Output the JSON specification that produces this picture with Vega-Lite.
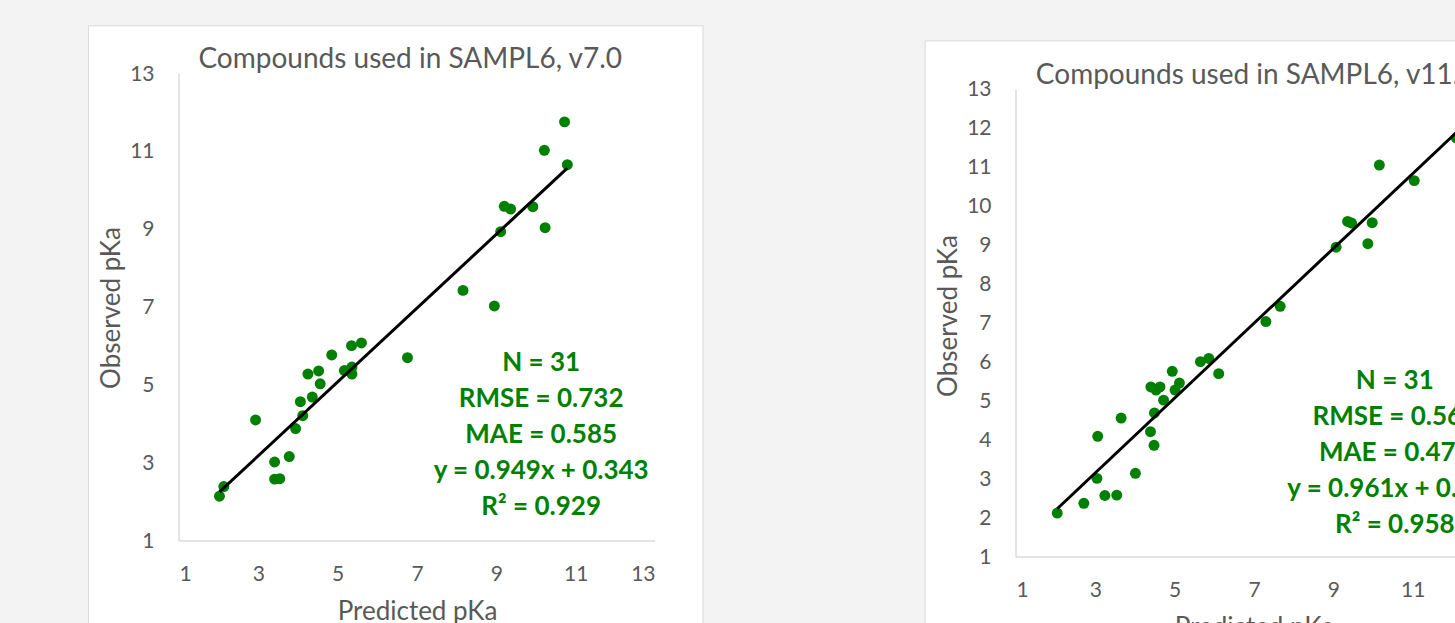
{
  "$schema": "https://vega.github.io/schema/vega-lite/v6.json",
  "background": "#f3f3f3",
  "padding": {"left": 88, "top": 25, "right": 0, "bottom": 0},
  "config": {
    "font": "Lato",
    "view": {"stroke": null},
    "axis": {
      "grid": false, "ticks": false, "domain": false, "labelOverlap": false,
      "labelFont": "Lato", "labelFontSize": 21, "labelColor": "#595959",
      "titleFont": "Lato", "titleFontSize": 26, "titleFontWeight": "normal", "titleColor": "#595959"
    },
    "axisX": {"labelPadding": 22, "titlePadding": 14},
    "axisY": {"labelPadding": 25, "titlePadding": 5}
  },
  "datasets": {
    "v7": [
      {"pred": 2.02, "obs": 2.15}, {"pred": 2.13, "obs": 2.40}, {"pred": 2.93, "obs": 4.11},
      {"pred": 3.41, "obs": 3.03}, {"pred": 3.41, "obs": 2.59}, {"pred": 3.54, "obs": 2.60},
      {"pred": 3.78, "obs": 3.17}, {"pred": 3.94, "obs": 3.89}, {"pred": 4.12, "obs": 4.22},
      {"pred": 4.06, "obs": 4.58}, {"pred": 4.36, "obs": 4.70}, {"pred": 4.25, "obs": 5.29},
      {"pred": 4.52, "obs": 5.37}, {"pred": 4.56, "obs": 5.04}, {"pred": 4.85, "obs": 5.78},
      {"pred": 5.17, "obs": 5.38}, {"pred": 5.36, "obs": 5.47}, {"pred": 5.36, "obs": 5.29},
      {"pred": 5.35, "obs": 6.02}, {"pred": 5.60, "obs": 6.09}, {"pred": 6.76, "obs": 5.71},
      {"pred": 8.16, "obs": 7.44}, {"pred": 8.95, "obs": 7.04}, {"pred": 9.11, "obs": 8.95},
      {"pred": 9.20, "obs": 9.60}, {"pred": 9.36, "obs": 9.53}, {"pred": 9.92, "obs": 9.59},
      {"pred": 10.23, "obs": 9.05}, {"pred": 10.21, "obs": 11.04}, {"pred": 10.79, "obs": 10.67},
      {"pred": 10.72, "obs": 11.77}
    ],
    "v7fit": [{"pred": 2.02, "obs": 2.26}, {"pred": 10.79, "obs": 10.58}],
    "v11": [
      {"pred": 2.04, "obs": 2.13}, {"pred": 2.71, "obs": 2.38}, {"pred": 3.04, "obs": 3.02},
      {"pred": 3.24, "obs": 2.58}, {"pred": 3.54, "obs": 2.59}, {"pred": 3.06, "obs": 4.10},
      {"pred": 3.65, "obs": 4.57}, {"pred": 4.01, "obs": 3.15}, {"pred": 4.39, "obs": 4.22},
      {"pred": 4.48, "obs": 3.87}, {"pred": 4.49, "obs": 4.70}, {"pred": 4.72, "obs": 5.03},
      {"pred": 4.40, "obs": 5.37}, {"pred": 4.53, "obs": 5.29}, {"pred": 4.63, "obs": 5.37},
      {"pred": 4.94, "obs": 5.77}, {"pred": 5.01, "obs": 5.29}, {"pred": 5.12, "obs": 5.47},
      {"pred": 5.65, "obs": 6.02}, {"pred": 5.86, "obs": 6.10}, {"pred": 6.11, "obs": 5.71},
      {"pred": 7.30, "obs": 7.05}, {"pred": 7.66, "obs": 7.44}, {"pred": 9.07, "obs": 8.96},
      {"pred": 9.36, "obs": 9.62}, {"pred": 9.46, "obs": 9.58}, {"pred": 9.98, "obs": 9.59},
      {"pred": 9.87, "obs": 9.05}, {"pred": 10.16, "obs": 11.07}, {"pred": 11.04, "obs": 10.67},
      {"pred": 12.10, "obs": 11.77}
    ],
    "v11fit": [{"pred": 2.04, "obs": 2.24}, {"pred": 12.2, "obs": 12.0}]
  },
  "hconcat": [
    {
      "width": 476, "height": 467,
      "layer": [
        {
          "data": {"values": [{}]},
          "mark": {"type": "rect", "fill": "white", "stroke": "#d9d9d9", "strokeWidth": 1},
          "encoding": {
            "x": {"datum": -1.28, "type": "quantitative", "title": "Predicted pKa",
                  "scale": {"domain": [1, 13], "nice": false, "zero": false},
                  "axis": {"values": [1,2,3,4,5,6,7,8,9,10,11,12,13], "labelOverlap": false, "domain": false, "zindex": 2}},
            "x2": {"datum": 14.21},
            "y": {"datum": 14.24, "type": "quantitative", "title": "Observed pKa",
                  "scale": {"domain": [1, 13], "nice": false, "zero": false},
                  "axis": {"values": [1,2,3,4,5,6,7,8,9,10,11,12,13], "labelOverlap": false, "domain": false, "zindex": 2}},
            "y2": {"datum": -2.0}
          }
        },
        {
          "data": {"values": [{}]},
          "mark": {"type": "rule", "color": "#c9c9c9", "strokeWidth": 1},
          "encoding": {"x": {"datum": 1}, "y": {"datum": 1}, "y2": {"datum": 13}}
        },
        {
          "data": {"values": [{}]},
          "mark": {"type": "rule", "color": "#c9c9c9", "strokeWidth": 1},
          "encoding": {"x": {"datum": 1}, "x2": {"datum": 13}, "y": {"datum": 1}}
        },
        {
          "data": {"values": [{}]},
          "mark": {"type": "text", "text": "Compounds used in SAMPL6, v7.0", "fontSize": 28, "color": "#595959", "align": "left", "baseline": "alphabetic"},
          "encoding": {"x": {"datum": 1.49}, "y": {"datum": 13.15}}
        },
        {
          "data": {"name": "v7"},
          "mark": {"type": "circle", "color": "#008000", "opacity": 1, "size": 120},
          "encoding": {
            "x": {"field": "pred", "type": "quantitative", "title": "Predicted pKa",
                  "axis": {"values": [1,2,3,4,5,6,7,8,9,10,11,12,13], "labelOverlap": false, "domain": false, "zindex": 2}},
            "y": {"field": "obs", "type": "quantitative", "title": "Observed pKa",
                  "axis": {"values": [1,2,3,4,5,6,7,8,9,10,11,12,13], "labelOverlap": false, "domain": false, "zindex": 2}}
          }
        },
        {
          "data": {"name": "v7fit"},
          "mark": {"type": "line", "color": "black", "strokeWidth": 3},
          "encoding": {
            "x": {"field": "pred", "type": "quantitative"},
            "y": {"field": "obs", "type": "quantitative"}
          }
        },
        {
          "data": {"values": [{}]},
          "mark": {"type": "text", "text": ["N = 31", "RMSE = 0.732", "MAE = 0.585", "y = 0.949x + 0.343", "R² = 0.929"],
                   "fontSize": 26, "fontWeight": "bold", "color": "#008000", "lineHeight": 36, "align": "center", "baseline": "middle"},
          "encoding": {"x": {"datum": 10.13}, "y": {"datum": 5.58}}
        }
      ]
    },
    {
      "width": 476, "height": 483,
      "layer": [
        {
          "data": {"values": [{}]},
          "mark": {"type": "rect", "fill": "white", "stroke": "#d9d9d9", "strokeWidth": 1},
          "encoding": {
            "x": {"datum": -1.29, "type": "quantitative", "title": "Predicted pKa",
                  "scale": {"domain": [1, 13], "nice": false, "zero": false},
                  "axis": {"values": [1,2,3,4,5,6,7,8,9,10,11,12,13], "labelOverlap": false, "domain": false, "zindex": 2}},
            "x2": {"datum": 14.6},
            "y": {"datum": 14.26, "type": "quantitative", "title": "Observed pKa",
                  "scale": {"domain": [1, 13.409], "nice": false, "zero": false},
                  "axis": {"values": [1,2,3,4,5,6,7,8,9,10,11,12,13], "labelOverlap": false, "domain": false, "zindex": 2}},
            "y2": {"datum": -2.0}
          }
        },
        {
          "data": {"values": [{}]},
          "mark": {"type": "rule", "color": "#c9c9c9", "strokeWidth": 1},
          "encoding": {"x": {"datum": 1}, "y": {"datum": 1}, "y2": {"datum": 13}}
        },
        {
          "data": {"values": [{}]},
          "mark": {"type": "rule", "color": "#c9c9c9", "strokeWidth": 1},
          "encoding": {"x": {"datum": 1}, "x2": {"datum": 13}, "y": {"datum": 1}}
        },
        {
          "data": {"values": [{}]},
          "mark": {"type": "text", "text": "Compounds used in SAMPL6, v11.0", "fontSize": 28, "color": "#595959", "align": "left", "baseline": "alphabetic"},
          "encoding": {"x": {"datum": 1.5}, "y": {"datum": 13.15}}
        },
        {
          "data": {"name": "v11"},
          "mark": {"type": "circle", "color": "#008000", "opacity": 1, "size": 120},
          "encoding": {
            "x": {"field": "pred", "type": "quantitative", "title": "Predicted pKa",
                  "axis": {"values": [1,2,3,4,5,6,7,8,9,10,11,12,13], "labelOverlap": false, "domain": false, "zindex": 2}},
            "y": {"field": "obs", "type": "quantitative", "title": "Observed pKa",
                  "axis": {"values": [1,2,3,4,5,6,7,8,9,10,11,12,13], "labelOverlap": false, "domain": false, "zindex": 2}}
          }
        },
        {
          "data": {"name": "v11fit"},
          "mark": {"type": "line", "color": "black", "strokeWidth": 3},
          "encoding": {
            "x": {"field": "pred", "type": "quantitative"},
            "y": {"field": "obs", "type": "quantitative"}
          }
        },
        {
          "data": {"values": [{}]},
          "mark": {"type": "text", "text": ["N = 31", "RMSE = 0.564", "MAE = 0.476", "y = 0.961x + 0.281", "R² = 0.958"],
                   "fontSize": 26, "fontWeight": "bold", "color": "#008000", "lineHeight": 36, "align": "center", "baseline": "middle"},
          "encoding": {"x": {"datum": 10.55}, "y": {"datum": 5.52}}
        }
      ]
    }
  ],
  "spacing": 220
}
